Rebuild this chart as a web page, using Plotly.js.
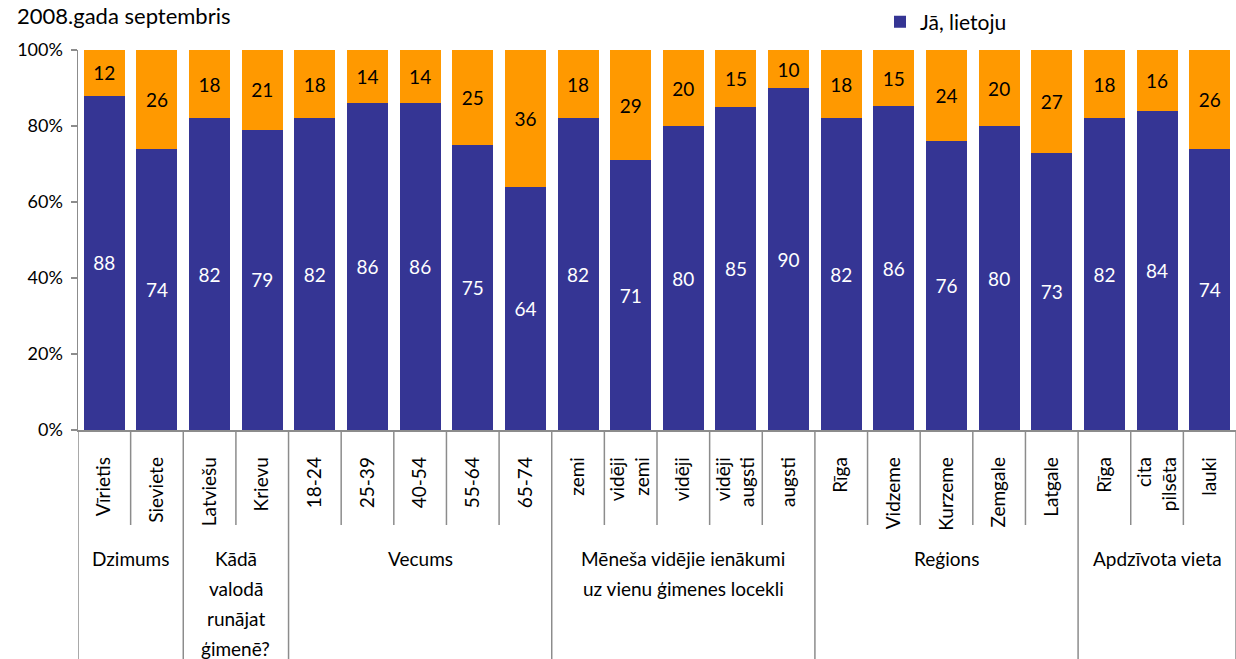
<!DOCTYPE html>
<html>
<head>
<meta charset="utf-8">
<script src="https://cdn.plot.ly/plotly-3.0.1.min.js"></script>
<style>html,body{margin:0;padding:0;background:#fff}#chart{width:1236px;height:659px}</style>
</head>
<body>
<div id="chart"></div>
<script>
const categories = ["Vīrietis","Sieviete","Latviešu","Krievu","18-24","25-39","40-54","55-64","65-74",
  "zemi","vidēji<br>zemi","vidēji","vidēji<br>augsti","augsti",
  "Rīga","Vidzeme","Kurzeme","Zemgale","Latgale",
  "Rīga","cita<br>pilsēta","lauki"];
const yesValues = [88,74,82,79,82,86,86,75,64,82,71,80,85,90,82,86,76,80,73,82,84,74];
const otherValues = [12,26,18,21,18,14,14,25,36,18,29,20,15,10,18,15,24,20,27,18,16,26];
const groupNames = ["Dzimums","Kādā<br>valodā<br>runājat<br>ģimenē?","Vecums",
  "Mēneša vidējie ienākumi<br>uz vienu ģimenes locekli","Reģions","Apdzīvota vieta"];
const groupSizes = [2,2,5,5,5,3];
const yTicks = [0,20,40,60,80,100];
const seriesName = "Jā, lietoju";
const chartTitle = "2008.gada septembris";

const idx = categories.map((_, i) => i);
const FONT = "Lato, Carlito, 'Open Sans', sans-serif";
const PLOT_H = 380;

const traces = [
  {type:'bar', x: idx, y: yesValues, name: seriesName, marker:{color:'#353594'},
   text: yesValues.map(String), textposition:'inside', insidetextanchor:'middle', textangle:0,
   textfont:{color:'#ffffff', size:19, family:FONT}, constraintext:'none', hoverinfo:'skip'},
  {type:'bar', x: idx, y: otherValues, name: 'other', showlegend:false, marker:{color:'#ff9900'},
   text: otherValues.map(String), textposition:'inside', insidetextanchor:'middle', textangle:0,
   textfont:{color:'#000000', size:19, family:FONT}, constraintext:'none', hoverinfo:'skip'}
];

const shapes = [];
const annotations = [];
const lineStyle = {color:'#8c8c8c', width:1.5};
let start = 0;
const boundaries = [-0.5];
groupSizes.forEach((n, g) => {
  const end = start + n;
  boundaries.push(end - 0.5);
  for (let k = start + 1; k < end; k++) {
    shapes.push({type:'line', xref:'x', yref:'paper', x0:k-0.5, x1:k-0.5, y0:0, y1:-95/PLOT_H, line:lineStyle});
  }
  groupNames[g].split('<br>').forEach((line, li) => {
    annotations.push({xref:'x', yref:'paper', x:(start+end-1)/2, y:-(128 + 30*li)/PLOT_H, yanchor:'middle', xanchor:'center',
      text: line, showarrow:false, align:'center', font:{size:19, family:FONT, color:'#000'}});
  });
  start = end;
});
boundaries.forEach(b => {
  shapes.push({type:'line', xref:'x', yref:'paper', x0:b, x1:b, y0:0, y1:-232/PLOT_H, line:lineStyle});
});

annotations.push({xref:'paper', yref:'paper', x:(233-78)/1158, y:(430-15)/PLOT_H, xanchor:'right', yanchor:'middle',
  text: chartTitle, showarrow:false, font:{size:22, family:FONT, color:'#000'}});

const layout = {
  width:1236, height:659,
  margin:{l:78, r:0, t:50, b:229},
  paper_bgcolor:'#fff', plot_bgcolor:'#fff',
  barmode:'stack', barnorm:'percent', bargap:0.22,
  font:{family:FONT, color:'#000'},
  showlegend:true,
  legend:{x:(880-78)/1158, y:(430-22)/PLOT_H, xanchor:'left', yanchor:'middle', orientation:'h',
    font:{size:21, family:FONT}, bgcolor:'rgba(0,0,0,0)'},
  xaxis:{range:[-0.5, categories.length-0.5], tickmode:'array', tickvals:idx, ticktext:categories,
    tickangle:-90, showgrid:false, zeroline:false, showline:true, linecolor:'#8c8c8c', linewidth:1.5,
    ticks:'outside', ticklen:8, tickcolor:'rgba(0,0,0,0)', ticklabelstandoff:10,
    tickfont:{size:19, family:FONT, color:'#000'}, fixedrange:true},
  yaxis:{range:[0,100], tickmode:'array', tickvals:yTicks, ticktext:yTicks.map(v=>v+'%'),
    showgrid:false, zeroline:false, showline:true, linecolor:'#8c8c8c', linewidth:1.5,
    ticks:'outside', ticklen:6, tickcolor:'#8c8c8c', tickwidth:1.5, ticklabelstandoff:4,
    tickfont:{size:18, family:FONT, color:'#000'}, fixedrange:true},
  shapes: shapes,
  annotations: annotations
};

Plotly.newPlot('chart', traces, layout, {staticPlot:true, displayModeBar:false});
</script>
</body>
</html>
